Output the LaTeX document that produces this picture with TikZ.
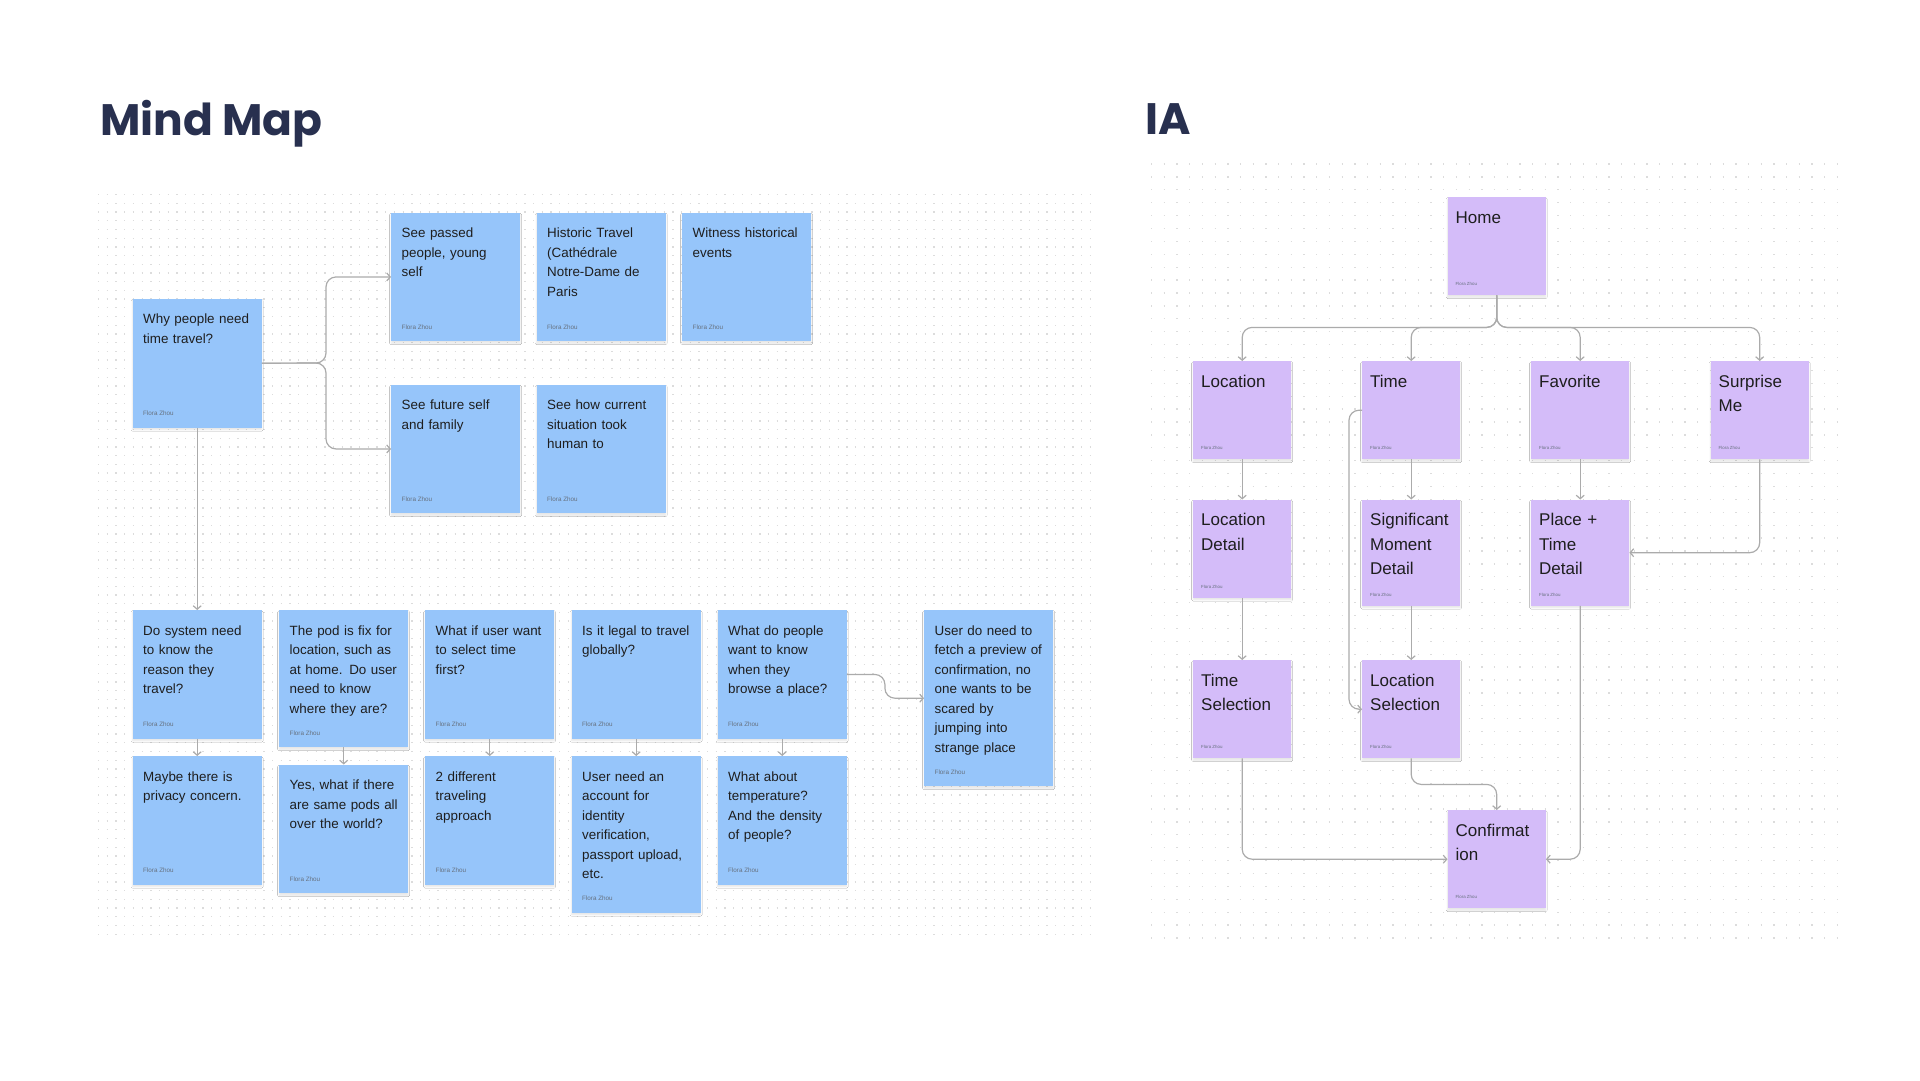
\documentclass[tikz,border=0pt]{standalone}
\usepackage{fontspec}
\setmainfont{Liberation Sans}
\newfontfamily\titlefont{Poppins}
\usetikzlibrary{arrows.meta,positioning,shadows.blur}

\definecolor{noteblue}{HTML}{96C5FA}
\definecolor{notepurple}{HTML}{D4BCF9}
\definecolor{inkdark}{HTML}{1E1E1E}
\definecolor{inkgray}{HTML}{66707E}
\definecolor{titlenavy}{HTML}{28304F}
\definecolor{linegray}{HTML}{ABABAB}
\definecolor{dotgray}{HTML}{DCDCDC}

\tikzset{
  notebox/.style={rectangle,anchor=north west,inner sep=0pt,
    blur shadow={shadow xshift=0pt,shadow yshift=-2pt,shadow blur radius=1.5pt,
      shadow blur steps=4,shadow opacity=10}},
  mmbox/.style={notebox,fill=noteblue,minimum width=129pt},
  iabox/.style={notebox,fill=notepurple,minimum width=98pt},
  mmtext/.style={anchor=north west,inner sep=0pt,text width=118pt,align=left,text=inkdark,
    font=\fontsize{13.4}{19.5}\selectfont},
  iatext/.style={anchor=north west,inner sep=0pt,text width=89pt,align=left,text=inkdark,
    font=\fontsize{17}{24.3}\selectfont},
  mmauthor/.style={anchor=west,inner sep=0pt,text=inkgray,font=\fontsize{6.3}{7}\selectfont},
  iaauthor/.style={anchor=west,inner sep=0pt,text=inkgray,font=\fontsize{4.4}{5}\selectfont},
  conn/.style={draw=linegray,line width=1.2pt,rounded corners=10pt,
    -{Straight Barb[length=3.5pt,width=8pt]}},
  dotrow/.style={draw=dotgray,line width=1.3pt,dash pattern=on 1.3pt off #1},
  bigtitle/.style={anchor=base west,inner sep=0pt,text=titlenavy,
    font=\titlefont\bfseries\fontsize{44}{52}\selectfont}
}

% blue sticky: name, x, y, height, text
\newcommand{\mmnote}[5]{%
  \node[mmbox,minimum height=#4pt] (#1) at (#2,#3) {};
  \node[mmtext] (#1t) at ([xshift=10.5pt,yshift=-11.4pt]#1.north west) {\strut#5};
  \node[mmauthor] (#1a) at ([xshift=10.5pt,yshift=14.5pt]#1.south west) {Flora Zhou};
}
% purple sticky: name, x, y, height, text
\newcommand{\ianote}[5]{%
  \node[iabox,minimum height=#4pt] (#1) at (#2,#3) {};
  \node[iatext] (#1t) at ([xshift=8pt,yshift=-9pt]#1.north west) {\strut#5};
  \node[iaauthor] (#1a) at ([xshift=8pt,yshift=11pt]#1.south west) {Flora Zhou};
}

\begin{document}
\begin{tikzpicture}[x=1pt,y=-1pt]
\useasboundingbox (0,0) rectangle (1920,1080);
\fill[white] (0,0) rectangle (1920,1080);

\foreach \gy in {194.7,203.4,...,938} \draw[dotrow=7.4pt] (98,\gy) -- (1090,\gy);
\foreach \gy in {164,176.9,...,941} \draw[dotrow=11.4pt] (1151,\gy) -- (1840,\gy);

\node[bigtitle] (mmtitle) at (100,135) {Mind Map};
\node[bigtitle] (iatitle) at (1145,134) {IA};

\mmnote{why}{132.5}{298.5}{129}{Why people need\\time travel?}
\mmnote{passed}{391}{212.5}{128.5}{See passed\\people, young\\self}
\mmnote{historic}{536.5}{212.5}{128.5}{Historic Travel\\(Cathédrale\\Notre-Dame de\\Paris}
\mmnote{witness}{682}{212.5}{128.5}{Witness historical\\events}
\mmnote{future}{391}{384.5}{128.5}{See future self\\and family}
\mmnote{current}{536.5}{384.5}{128.5}{See how current\\situation took\\human to}
\mmnote{system}{132.5}{610}{128.5}{Do system need\\to know the\\reason they\\travel?}
\mmnote{pod}{279}{610}{137}{The pod is fix for\\location, such as\\at home. Do user\\need to know\\where they are?}
\mmnote{select}{425}{610}{128.5}{What if user want\\to select time\\first?}
\mmnote{legal}{571.5}{610}{128.5}{Is it legal to travel\\globally?}
\mmnote{browse}{717.5}{610}{128.5}{What do people\\want to know\\when they\\browse a place?}
\mmnote{preview}{924}{610}{176}{User do need to\\fetch a preview of\\confirmation, no\\one wants to be\\scared by\\jumping into\\strange place}
\mmnote{privacy}{132.5}{756}{128.5}{Maybe there is\\privacy concern.}
\mmnote{pods}{279}{764.5}{128.5}{Yes, what if there\\are same pods all\\over the world?}
\mmnote{approach}{425}{756}{128.5}{2 different\\traveling\\approach}
\mmnote{account}{571.5}{756}{156.5}{User need an\\account for\\identity\\verification,\\passport upload,\\etc.}
\mmnote{density}{717.5}{756}{128.5}{What about\\temperature?\\And the density\\of people?}

\coordinate (fork) at (326,363);
\draw[conn] (why.east) -- (fork) |- (passed.west);
\draw[conn] (why.east) -- (fork) |- (future.west);
\draw[conn] (why.south) -- (system.north);
\draw[conn] (system.south) -- (privacy.north);
\draw[conn] (pod.south) -- (pods.north);
\draw[conn] (select.south) -- (approach.north);
\draw[conn] (legal.south) -- (account.north);
\draw[conn] (browse.south) -- (density.north);
\draw[conn] (browse.east) -- ++(38,0) |- (preview.west);

\ianote{home}{1447.5}{197}{98}{Home}
\ianote{loc}{1193}{361}{98}{Location}
\ianote{time}{1362}{361}{98}{Time}
\ianote{fav}{1531}{361}{98}{Favorite}
\ianote{surprise}{1710.5}{361}{98}{Surprise\\Me}
\ianote{locdet}{1193}{499.5}{98}{Location\\Detail}
\ianote{sigdet}{1362}{499.5}{106}{Significant\\Moment\\Detail}
\ianote{ptdet}{1531}{499.5}{106}{Place +\\Time\\Detail}
\ianote{timesel}{1193}{660}{98}{Time\\Selection}
\ianote{locsel}{1362}{660}{98}{Location\\Selection}
\ianote{confirm}{1447.5}{810}{98}{Confirmat\\ion}

\draw[conn] (home.south) -- ++(0,32) -| (loc.north);
\draw[conn] (home.south) -- ++(0,32) -| (time.north);
\draw[conn] (home.south) -- ++(0,32) -| (fav.north);
\draw[conn] (home.south) -- ++(0,32) -| (surprise.north);
\draw[conn] (loc.south) -- (locdet.north);
\draw[conn] (time.south) -- (sigdet.north);
\draw[conn] (fav.south) -- (ptdet.north);
\draw[conn] (surprise.south) |- (ptdet.east);
\draw[conn] (locdet.south) -- (timesel.north);
\draw[conn] (sigdet.south) -- (locsel.north);
\draw[conn] (time.west) -- ++(-13,0) |- (locsel.west);
\draw[conn] (locsel.south) -- ++(0,26) -| (confirm.north);
\draw[conn] (timesel.south) |- (confirm.west);
\draw[conn] (ptdet.south) |- (confirm.east);
\end{tikzpicture}
\end{document}
